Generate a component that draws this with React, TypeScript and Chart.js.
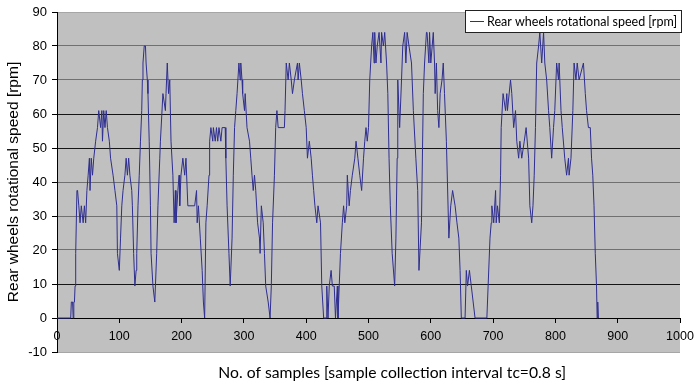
import React, { useEffect, useRef } from "react";
import { Chart, registerables } from "chart.js";

Chart.register(...registerables);

const seriesLabel = "Rear wheels rotational speed [rpm]";
const xTitle = "No. of samples [sample collection interval tc=0.8 s]";
const yTitle = "Rear wheels rotational speed [rpm]";

const sampleNo: number[] = [
  0, 22, 23, 25, 26, 27, 28, 29, 30, 32, 33, 35, 37, 39, 42, 44, 46, 48, 50, 52,
  53, 55, 57, 59, 62, 65, 67, 70, 72, 73, 75, 77, 79, 81, 84, 86, 90, 93, 96, 97,
  100, 102, 104, 106, 109, 111, 113, 115, 117, 120, 121, 123, 125, 127, 128, 130, 132, 134, 136, 137,
  138, 140, 142, 143, 145, 146, 148, 150, 151, 154, 157, 160, 162, 165, 166, 170, 174, 175, 177, 179,
  181, 183, 186, 188, 190, 191, 194, 196, 197, 199, 202, 205, 207, 210, 221, 224, 225, 227, 230, 233,
  235, 237, 239, 241, 244, 245, 247, 250, 251, 254, 256, 258, 260, 263, 265, 270, 271, 273, 276, 278,
  281, 283, 285, 287, 289, 292, 294, 295, 297, 298, 301, 302, 305, 309, 311, 313, 315, 317, 319, 322,
  325, 326, 328, 331, 333, 335, 339, 342, 344, 346, 349, 351, 353, 355, 365, 366, 368, 371, 373, 376,
  378, 381, 386, 387, 389, 392, 394, 397, 400, 402, 405, 408, 410, 412, 414, 417, 419, 423, 425, 428,
  432, 433, 435, 437, 440, 442, 445, 447, 450, 451, 453, 455, 458, 460, 462, 465, 466, 469, 471, 474,
  478, 480, 483, 486, 489, 492, 494, 496, 498, 500, 502, 505, 507, 509, 510, 512, 514, 517, 520, 521,
  524, 526, 529, 531, 533, 535, 538, 542, 544, 546, 547, 550, 553, 555, 558, 560, 562, 565, 569, 572,
  576, 579, 581, 585, 588, 590, 593, 594, 597, 598, 600, 604, 606, 607, 609, 611, 613, 615, 618, 620,
  622, 625, 629, 632, 635, 639, 642, 645, 647, 649, 655, 657, 659, 662, 665, 668, 671, 690, 692, 695,
  697, 698, 701, 704, 705, 707, 710, 712, 713, 716, 720, 722, 723, 728, 730, 733, 736, 738, 741, 743,
  746, 750, 753, 757, 759, 762, 764, 766, 768, 770, 773, 775, 778, 781, 783, 786, 789, 791, 794, 797,
  799, 802, 805, 806, 809, 811, 815, 818, 821, 822, 825, 828, 830, 833, 835, 838, 845, 848, 850, 853,
  856, 858, 860, 862, 864, 866, 867, 868, 869,
];

const speedRpm: number[] = [
  0, 0, 4.7, 4.7, 0, 4.7, 4.7, 9.4, 19, 37.5, 37.5, 33, 28, 33, 28, 33, 28, 37.5, 42, 47,
  37.5, 47, 42, 47, 52, 56, 61, 56, 61, 52, 61, 56, 61, 56, 52, 47, 42, 37.5, 33, 19,
  14, 23.5, 33, 37.5, 42, 47, 42, 47, 42, 37.5, 33, 19, 9.4, 14, 19, 33, 42, 52, 61, 70,
  75, 80, 80, 75, 70, 66, 52, 33, 19, 9.4, 4.7, 19, 33, 47, 52, 66, 61, 66, 75, 66,
  70, 52, 42, 28, 37.5, 28, 37.5, 42, 33, 42, 47, 42, 47, 33, 33, 37.5, 28, 33, 23.5, 14,
  4.7, 0, 28, 33, 42, 52, 56, 52, 56, 52, 56, 52, 56, 52, 56, 56, 47, 33, 19, 9.4,
  23.5, 42, 56, 61, 66, 75, 70, 75, 70, 66, 61, 66, 56, 52, 47, 42, 37.5, 42, 37.5, 28,
  23.5, 19, 33, 28, 19, 9.4, 4.7, 0, 9.4, 28, 42, 56, 61, 56, 56, 61, 75, 70, 75, 70,
  66, 70, 75, 70, 75, 70, 66, 61, 56, 47, 52, 47, 42, 37.5, 33, 28, 33, 28, 9.4, 0,
  0, 9.4, 0, 9.4, 14, 9.4, 9.4, 0, 9.4, 0, 9.4, 19, 28, 33, 28, 33, 42, 33, 37.5, 42,
  47, 52, 47, 42, 37.5, 47, 52, 56, 52, 56, 70, 80, 84, 75, 84, 75, 80, 84, 75, 84,
  80, 84, 75, 66, 47, 33, 19, 9.4, 23.5, 47, 70, 56, 70, 80, 84, 75, 84, 80, 75, 61,
  47, 37.5, 14, 28, 66, 75, 84, 84, 75, 84, 75, 84, 75, 66, 75, 61, 56, 66, 70, 75,
  66, 52, 23.5, 33, 37.5, 33, 28, 23.5, 14, 0, 0, 14, 9.4, 14, 9.4, 4.7, 0, 0, 9.4, 23.5,
  28, 33, 28, 37.5, 28, 33, 28, 42, 56, 66, 61, 66, 61, 70, 66, 56, 61, 52, 47, 52,
  47, 52, 56, 47, 33, 28, 33, 42, 56, 75, 80, 84, 75, 84, 75, 70, 61, 56, 47, 56,
  61, 75, 70, 75, 61, 56, 47, 42, 47, 42, 47, 61, 75, 70, 75, 70, 75, 66, 61, 56,
  56, 47, 42, 33, 19, 9.4, 0, 4.7, 0,
];

const xTicks = { min: 0, max: 1000, step: 100 };
const yTicks = { min: -10, max: 90, step: 10 };

const LINE_COLOR = "#2e2e90";

export default function App() {
  const ref = useRef<HTMLCanvasElement | null>(null);

  useEffect(() => {
    document.body.style.margin = "0";
    const canvas = ref.current;
    if (!canvas) return;

    const plotBg = {
      id: "plotBg",
      beforeDraw(chart: any) {
        const { ctx, chartArea } = chart;
        ctx.save();
        ctx.fillStyle = "#c0c0c0";
        ctx.fillRect(chartArea.left, chartArea.top, chartArea.right - chartArea.left, chartArea.bottom - chartArea.top);
        ctx.restore();
      },
    };

    const xAxisTitle = {
      id: "xAxisTitle",
      afterDraw(chart: any) {
        const { ctx, chartArea } = chart;
        ctx.save();
        ctx.fillStyle = "#000";
        ctx.font = "15.7px Lato";
        ctx.textAlign = "center";
        ctx.textBaseline = "middle";
        const cx = chartArea.left + (chartArea.right - chartArea.left) * 0.538;
        ctx.fillText(xTitle, cx, chartArea.bottom + 21);
        ctx.restore();
      },
    };

    const boxLegend = {
      id: "boxLegend",
      afterDraw(chart: any) {
        const { ctx, chartArea } = chart;
        const label = chart.data.datasets[0].label;
        const right = chartArea.right + 1;
        const w = 216;
        const left = right - w;
        const top = chartArea.top - 2;
        const h = 22;
        ctx.save();
        ctx.fillStyle = "#ffffff";
        ctx.fillRect(left, top, w, h);
        ctx.strokeStyle = "#222";
        ctx.lineWidth = 1;
        ctx.strokeRect(Math.round(left) + 0.5, Math.round(top) + 0.5, w, h);
        const cy = Math.round(top + h / 2) + 0.5;
        ctx.strokeStyle = LINE_COLOR;
        ctx.beginPath();
        ctx.moveTo(left + 5, cy);
        ctx.lineTo(left + 19, cy);
        ctx.stroke();
        ctx.fillStyle = "#000";
        ctx.font = "12.5px Lato";
        ctx.textBaseline = "middle";
        ctx.textAlign = "left";
        ctx.fillText(label, left + 22, top + h / 2 + 0.5);
        ctx.restore();
      },
    };

    const darkVals = [60, 50, 10, 0];

    const chart = new Chart(canvas, {
      type: "line",
      data: {
        datasets: [
          {
            label: seriesLabel,
            data: sampleNo.map((s, i) => ({ x: s, y: speedRpm[i] })),
            borderColor: LINE_COLOR,
            borderWidth: 1,
            pointRadius: 0,
            tension: 0,
            fill: false,
          },
        ],
      },
      options: {
        animation: false,
        responsive: false,
        events: [],
        layout: { padding: { left: 0, right: 14, top: 12, bottom: 35 } },
        plugins: {
          legend: { display: false },
          tooltip: { enabled: false },
          title: { display: false },
        },
        scales: {
          x: {
            type: "linear",
            position: { y: 0 } as any,
            min: xTicks.min,
            max: xTicks.max,
            ticks: {
              stepSize: xTicks.step,
              color: "#000",
              font: { family: "Liberation Sans", size: 12.5 },
              padding: 7,
              maxRotation: 0,
              callback: (v: any) => String(v),
            },
            grid: {
              drawOnChartArea: false,
              drawTicks: true,
              tickLength: 4,
              tickColor: "#000",
            },
            border: { display: true, color: "#000", width: 1 },
            afterFit(scale: any) {
              scale.height = 0;
              scale.paddingLeft = 0;
              scale.paddingRight = 0;
            },
          },
          y: {
            type: "linear",
            position: "left",
            min: yTicks.min,
            max: yTicks.max,
            ticks: {
              stepSize: yTicks.step,
              color: "#000",
              font: { family: "Liberation Sans", size: 13 },
              padding: 5,
              callback: (v: any) => String(v),
            },
            grid: {
              color: (c: any) => {
                const v = c.tick ? c.tick.value : null;
                if (v === 90 || v === -10) return "#a6a6a6";
                if (darkVals.includes(v)) return "#151515";
                return "#707070";
              },
              tickColor: "#000",
              tickLength: 5,
            },
            border: { display: true, color: "#000", width: 1 },
            title: {
              display: true,
              text: yTitle,
              color: "#000",
              font: { family: "Liberation Sans", size: 15.5, weight: "normal" },
              padding: { top: 4, bottom: 0 },
            },
            afterFit(scale: any) {
              scale.width = 57;
              scale.paddingTop = 0;
              scale.paddingBottom = 0;
            },
          },
        },
      },
      plugins: [plotBg, xAxisTitle, boxLegend],
    });

    return () => chart.destroy();
  }, []);

  return (
    <div style={{ width: 694, height: 387 }}>
      <canvas ref={ref} width={694} height={387} />
    </div>
  );
}
